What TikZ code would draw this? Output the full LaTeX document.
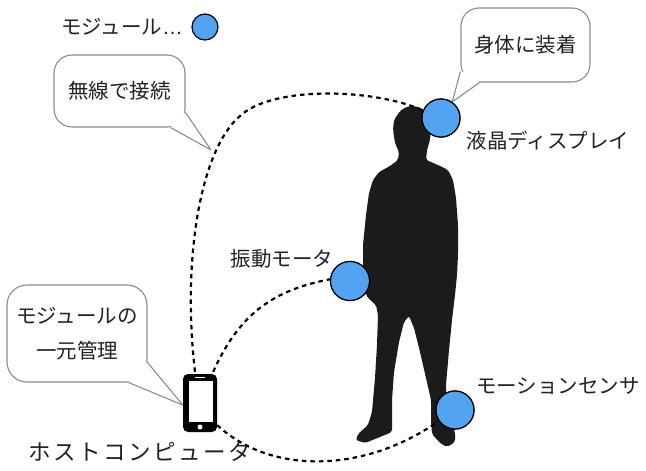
\documentclass[tikz,border=0pt]{standalone}
\usepackage{fontspec}
\setmainfont{Noto Sans CJK JP}
\newfontfamily\latinfont{Liberation Sans}
\newfontfamily\widejp[LetterSpace=11]{Noto Sans CJK JP}
\definecolor{modblue}{RGB}{82,164,243}
\definecolor{bubbleline}{RGB}{140,140,140}
\definecolor{ink}{RGB}{34,34,34}
\definecolor{bodyfill}{RGB}{27,27,27}

\begin{document}
\begin{tikzpicture}[x=1pt,y=-1pt,
  caption/.style={text=ink, font=\fontsize{20.5}{26}\selectfont, inner sep=0pt},
  bubble/.style={draw=bubbleline, line width=1.1pt, fill=white, rounded corners=18pt,
    inner sep=0pt, text=ink, font=\fontsize{20.5}{35}\selectfont, align=center},
  tail/.style={draw=bubbleline, line width=1.1pt, line join=round},
  module/.style={circle, draw=black, line width=1.2pt, fill=modblue, inner sep=0pt},
  phone/.style={rectangle, fill=black, rounded corners=5pt, minimum width=34pt,
    minimum height=58pt, inner sep=0pt},
  link/.style={draw=black, line width=2.2pt, dash pattern=on 4.5pt off 4pt},
]
\useasboundingbox (0,0) rectangle (646,471);

% speech bubbles
\node[bubble, minimum width=131pt, minimum height=72pt] (wireless) at (119.5,91) {無線で接続};
\node[bubble, minimum width=129pt, minimum height=74pt] (wear) at (525.5,45) {身体に装着};
\node[bubble, minimum width=140pt, minimum height=97pt, rounded corners=20pt] (manage) at (77,333.5) {モジュールの\\一元管理};

% host computer (smartphone)
\node[phone] (host) at (200,403) {};
\fill[white] (188.5,381) rectangle (212.5,421.5);
\draw[white, line width=1.5pt, line cap=round] (195.5,377.5) -- (204.5,377.5);
\fill[white] (200,427) circle (2.5);

% person silhouette
\fill[bodyfill, rounded corners=2pt]
  (400,111) -- (406,107) -- (414,106) -- (421,108) -- (428,114) -- (431,126)
  -- (430,140) -- (427,150) -- (426,160) -- (438,165) -- (448,170) -- (453,180)
  -- (456,198) -- (458,225) -- (458,255) -- (457,275) -- (455,295) -- (452,320)
  -- (449,350) -- (446,385) -- (446,405) -- (450,420) -- (455,432) -- (455,442)
  -- (447,447) -- (440,443) -- (432,434) -- (431,420) -- (431,400) -- (426,378)
  -- (420,352) -- (414,328) -- (409,316) -- (404,322) -- (399,342) -- (394,372)
  -- (392,400) -- (392,420) -- (392,432) -- (380,437) -- (365,443) -- (356,440)
  -- (358,434) -- (368,425) -- (372,412) -- (375,378) -- (377,345) -- (378,315)
  -- (376,305) -- (370,300) -- (366,295) -- (363,275) -- (363,245) -- (366,215)
  -- (369,193) -- (373,180) -- (379,172) -- (390,166) -- (398,160) -- (399,152)
  -- (395,143) -- (393,130) -- (394,120) -- cycle;

% modules worn on the body
\node[module, minimum size=38pt] (lcd) at (441,118) {};
\node[module, minimum size=39pt] (motor) at (350,281) {};
\node[module, minimum size=38pt] (sensor) at (455,410) {};
\node[module, minimum size=26pt] (legend) at (205,27) {};

% bubble tails
\coordinate (wirelesstip) at (211,150);
\fill[white] ([xshift=-15pt]wireless.south east) -- (wirelesstip)
  -- ([yshift=15pt]wireless.south east) -- ([xshift=-10pt,yshift=10pt]wireless.south east) -- cycle;
\draw[tail] ([xshift=-15pt]wireless.south east) -- (wirelesstip) -- ([yshift=15pt]wireless.south east);

\fill[white] ([yshift=11pt]wear.south west) -- (lcd.55)
  -- ([xshift=19pt]wear.south west) -- ([xshift=10pt,yshift=10pt]wear.south west) -- cycle;
\draw[tail] ([yshift=11pt]wear.south west) -- (lcd.55) -- ([xshift=19pt]wear.south west);

\fill[white] ([xshift=-19pt]manage.south east) -- ([yshift=-2pt]host.west)
  -- ([yshift=20pt]manage.south east) -- ([xshift=-12pt,yshift=12pt]manage.south east) -- cycle;
\draw[tail] ([xshift=-19pt]manage.south east) -- ([yshift=-2pt]host.west) -- ([yshift=20pt]manage.south east);

% wireless links
\draw[link] ([xshift=-5pt,yshift=2pt]host.north) .. controls (182,260) and (200,150) .. (240,116)
  .. controls (272,86) and (372,88) .. (lcd.157);
\draw[link] ([xshift=-4pt,yshift=2pt]host.north east) .. controls (240,312) and (275,290) .. (motor.175);
\draw[link] ([yshift=7pt]host.south east) .. controls (275,478) and (370,470) .. (sensor.214);

% redraw modules above the links
\node[module, minimum size=38pt] at (lcd) {};
\node[module, minimum size=39pt] at (motor) {};
\node[module, minimum size=38pt] at (sensor) {};

% labels
\node[caption] (legendtext) at (122,27) {モジュール{\latinfont …}};
\node[caption] (lcdtext) at (548,141) {液晶ディスプレイ};
\node[caption] (motortext) at (282,259) {振動モータ};
\node[caption] (sensortext) at (558,386) {モーションセンサ};
\node[caption, font=\widejp\fontsize{22.5}{28}\selectfont] (hosttext) at (140,452) {ホストコンピュータ};
\end{tikzpicture}
\end{document}
